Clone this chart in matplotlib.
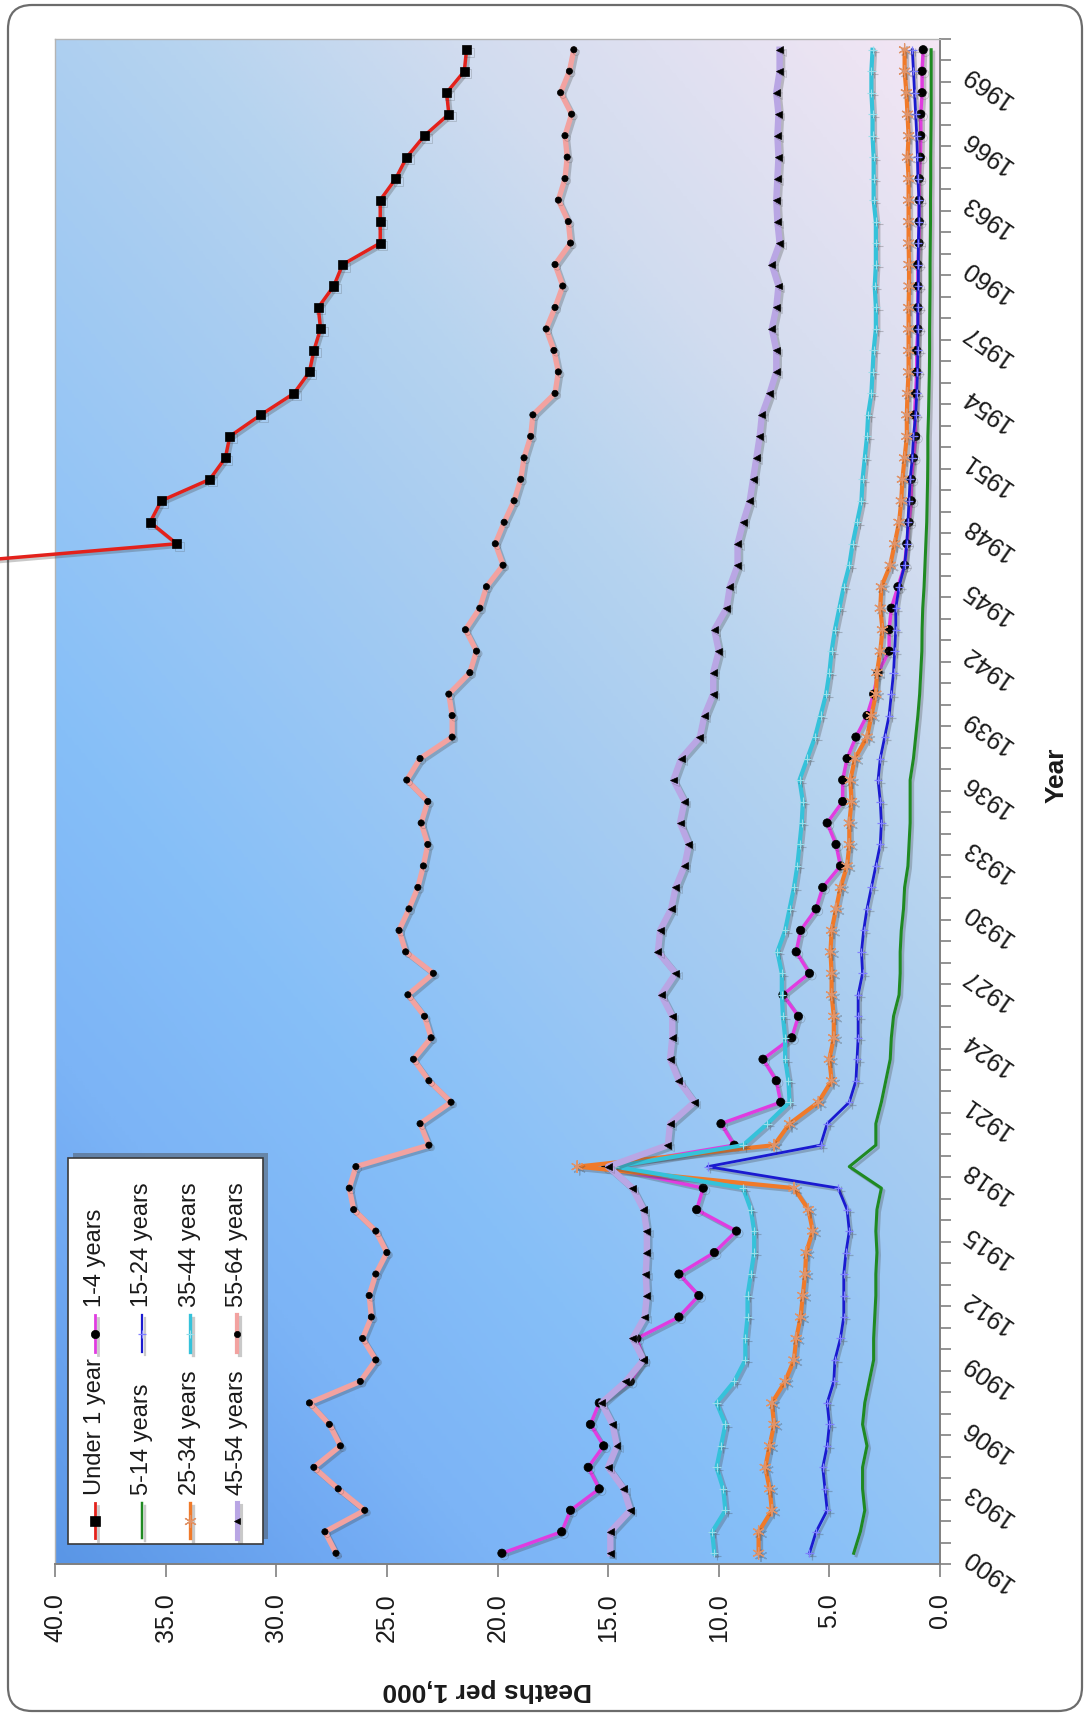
import numpy as np
import matplotlib
matplotlib.use("Agg")
import matplotlib.pyplot as plt
from matplotlib.patches import FancyBboxPatch, Rectangle
from matplotlib.lines import Line2D
from matplotlib.colors import LinearSegmentedColormap
import matplotlib.patheffects as pe

plt.rcParams['font.family'] = ['Liberation Sans', 'DejaVu Sans']

# ---------------- data (deaths per 1,000) ----------------
years = list(range(1900, 1971))
under1_years = list(range(1946, 1971))
under_1 = [45.9, 34.5, 35.7, 35.2, 33.0, 32.3, 32.1, 30.7, 29.2, 28.5,
           28.3, 28.0, 28.1, 27.4, 27.0, 25.3, 25.3, 25.3, 24.6, 24.1,
           23.3, 22.2, 22.3, 21.5, 21.4]
age_1_4 = [19.8, 17.1, 16.7, 15.4, 15.9, 15.2, 15.8, 15.4, 14.0, 13.4,
           13.7, 11.8, 10.9, 11.8, 10.2, 9.2, 11.0, 10.7, 15.1, 9.3,
           9.9, 7.2, 7.4, 8.0, 6.7, 6.4, 7.1, 5.9, 6.5, 6.3,
           5.6, 5.3, 4.5, 4.7, 5.1, 4.4, 4.4, 4.2, 3.8, 3.3,
           3.0, 2.8, 2.3, 2.3, 2.2, 1.9, 1.6, 1.5, 1.4, 1.3,
           1.3, 1.2, 1.1, 1.15, 1.1, 1.05, 1.05, 1.0, 1.0, 1.0,
           1.0, 0.95, 0.94, 0.94, 0.94, 0.89, 0.87, 0.87, 0.81, 0.81,
           0.76]
age_5_14 = [3.9, 3.6, 3.4, 3.5, 3.5, 3.3, 3.5, 3.4, 3.2, 3.0,
            3.0, 2.95, 2.9, 2.9, 2.85, 2.9, 2.85, 2.65, 4.1, 2.9,
            2.9, 2.65, 2.45, 2.25, 2.2, 2.1, 1.85, 1.8, 1.8, 1.75,
            1.65, 1.6, 1.45, 1.4, 1.35, 1.35, 1.35, 1.2, 1.1, 1.0,
            0.92, 0.87, 0.82, 0.81, 0.78, 0.72, 0.68, 0.64, 0.6, 0.58,
            0.56, 0.55, 0.55, 0.52, 0.5, 0.48, 0.47, 0.47, 0.46, 0.45,
            0.45, 0.44, 0.43, 0.43, 0.42, 0.42, 0.41, 0.4, 0.4, 0.4,
            0.4]
age_15_24 = [5.9, 5.6, 5.1, 5.2, 5.3, 5.1, 5.0, 5.1, 4.8, 4.75,
             4.5, 4.35, 4.35, 4.35, 4.25, 4.1, 4.2, 4.6, 10.5, 5.4,
             5.1, 4.1, 3.8, 3.75, 3.7, 3.7, 3.7, 3.5, 3.55, 3.45,
             3.3, 3.1, 2.9, 2.7, 2.65, 2.7, 2.8, 2.7, 2.5, 2.3,
             2.2, 2.1, 2.05, 2.0, 2.0, 1.85, 1.6, 1.5, 1.45, 1.4,
             1.35, 1.25, 1.2, 1.1, 1.05, 1.02, 1.0, 1.0, 1.0, 0.98,
             0.98, 0.98, 0.95, 0.95, 1.0, 1.02, 1.05, 1.1, 1.15, 1.2,
             1.25]
age_25_34 = [8.2, 8.2, 7.6, 7.7, 7.9, 7.7, 7.5, 7.6, 7.0, 6.6,
             6.5, 6.3, 6.2, 6.1, 6.05, 5.75, 5.95, 6.6, 16.4, 7.5,
             6.8, 5.5, 4.9, 5.0, 4.8, 4.8, 4.9, 4.9, 4.95, 4.9,
             4.7, 4.5, 4.2, 4.1, 4.1, 4.0, 4.05, 3.85, 3.3, 3.1,
             2.9, 2.85, 2.7, 2.6, 2.7, 2.65, 2.25, 2.05, 1.85, 1.75,
             1.7, 1.6, 1.5, 1.5, 1.47, 1.42, 1.42, 1.42, 1.42, 1.4,
             1.4, 1.42, 1.42, 1.42, 1.42, 1.47, 1.42, 1.47, 1.52, 1.6,
             1.6]
age_35_44 = [10.2, 10.3, 9.7, 9.8, 10.1, 9.9, 9.7, 10.1, 9.3, 8.8,
             8.8, 8.7, 8.7, 8.55, 8.4, 8.4, 8.55, 8.9, 14.7, 8.9,
             7.8, 6.8, 6.85, 7.0, 7.0, 7.1, 7.15, 7.15, 7.35, 7.0,
             6.8, 6.6, 6.45, 6.35, 6.25, 6.2, 6.35, 6.0, 5.65, 5.4,
             5.15, 5.0, 4.9, 4.75, 4.55, 4.35, 4.1, 3.95, 3.75, 3.55,
             3.5, 3.4, 3.3, 3.25, 3.1, 3.05, 3.0, 2.9, 2.9, 2.95,
             2.9, 2.9, 2.9, 3.0, 3.0, 3.0, 3.05, 3.05, 3.1, 3.1,
             3.05]
age_45_54 = [14.9, 14.9, 14.0, 14.3, 15.0, 14.6, 14.8, 15.3, 14.2, 13.4,
             13.9, 13.35, 13.25, 13.3, 13.25, 13.25, 13.4, 13.9, 15.0, 12.3,
             12.2, 11.1, 11.8, 12.2, 12.1, 12.1, 12.6, 11.95, 12.75, 12.65,
             12.15, 11.95, 11.55, 11.35, 11.75, 11.55, 12.05, 11.7, 10.85, 10.65,
             10.25, 10.25, 10.0, 10.2, 9.65, 9.5, 9.15, 9.15, 8.9, 8.6,
             8.45, 8.3, 8.15, 8.05, 7.7, 7.4, 7.4, 7.6, 7.4, 7.3,
             7.6, 7.25, 7.35, 7.4, 7.35, 7.3, 7.35, 7.3, 7.4, 7.25,
             7.25]
age_55_64 = [27.3, 27.8, 26.0, 27.2, 28.3, 27.1, 27.6, 28.5, 26.2, 25.5,
             26.1, 25.7, 25.8, 25.5, 25.0, 25.5, 26.5, 26.7, 26.4, 23.1,
             23.5, 22.1, 23.1, 23.8, 23.0, 23.3, 24.05, 22.9, 24.15, 24.45,
             24.0, 23.6, 23.35, 23.15, 23.45, 23.15, 24.1, 23.5, 22.05, 22.05,
             22.2, 21.25, 20.95, 21.45, 20.8, 20.5, 19.75, 20.1, 19.7, 19.25,
             18.95, 18.8, 18.5, 18.4, 17.4, 17.25, 17.45, 17.8, 17.4, 17.05,
             17.4, 16.7, 16.8, 17.25, 16.95, 16.85, 16.95, 16.65, 17.15, 16.75,
             16.55]

series_names = ["Under 1 year", "1-4 years", "5-14 years", "15-24 years",
                "25-34 years", "35-44 years", "45-54 years", "55-64 years"]
year_ticks = list(range(1900, 1970, 3))
death_ticks = [0, 5, 10, 15, 20, 25, 30, 35, 40]
x_label = "Deaths per 1,000"
y_label = "Year"

# ---------------- styles ----------------
styles = [
    dict(color='#e3211b', lw=2.5, marker='s', ms=6.5, mfc='black', mec='black', mew=0.5),
    dict(color='#e03ce0', lw=2.5, marker='o', ms=6, mfc='black', mec='black', mew=0.5),
    dict(color='#1f8a22', lw=2.2, marker='None'),
    dict(color='#1a1ad0', lw=2.0, marker='+', ms=6, mfc='#8080ff', mec='#8080ff', mew=0.9),
    dict(color='#f07a2a', lw=3.0, marker=(6, 2, 0), ms=9, mfc='#e0946a', mec='#e0946a', mew=0.9),
    dict(color='#35c2da', lw=3.0, marker='+', ms=6, mfc='#9adeea', mec='#9adeea', mew=0.8),
    dict(color='#b9a6e4', lw=4.6, marker='<', ms=5, mfc='black', mec='black', mew=0.5),
    dict(color='#f2a2a0', lw=3.8, marker='o', ms=4.5, mfc='black', mec='black', mew=0.5),
]
shadow = [pe.SimpleLineShadow(offset=(1.8, -1.8), shadow_color='#404040', alpha=0.28), pe.Normal()]

W, H = 1090, 1717
fig = plt.figure(figsize=(W / 100, H / 100), dpi=100)
fig.patch.set_facecolor('white')

# outer rounded frame
bg = fig.add_axes([0, 0, 1, 1], zorder=0)
bg.set_xlim(0, W); bg.set_ylim(H, 0); bg.axis('off')
bg.add_patch(FancyBboxPatch((8, 5), W - 16, H - 11,
                            boxstyle="round,pad=0,rounding_size=24",
                            fc='white', ec='#6c6c6c', lw=1.6))

# main axes: deaths horizontal (reversed), years vertical
ax = fig.add_axes([55 / W, 1 - 1564 / H, 885 / W, 1525 / H], zorder=1)

cmap = LinearSegmentedColormap.from_list('bg', [
    (0.0, '#5a96e6'), (0.12, '#6fa8f2'), (0.2, '#7cb4f6'), (0.33, '#86bff8'),
    (0.57, '#a9cdf1'), (0.66, '#b7d4ef'), (0.78, '#d1dcef'), (1.0, '#f4e6f4')])
U, V = np.meshgrid(np.linspace(0, 1, 400), np.linspace(0, 1, 400))
ax.imshow(0.4 * U + 0.6 * V, extent=(0, 1, 0, 1), transform=ax.transAxes,
          origin='lower', cmap=cmap, vmin=0, vmax=1, aspect='auto',
          zorder=0, interpolation='bilinear')

all_series = [age_1_4, age_5_14, age_15_24, age_25_34, age_35_44, age_45_54, age_55_64]
ax.plot(under_1, under1_years, zorder=3, clip_on=False, path_effects=shadow, **styles[0])
for vals, st in zip(all_series, styles[1:]):
    ax.plot(vals, years, zorder=3, path_effects=shadow, **st)

ax.set_xlim(40, 0)
ax.set_ylim(1899.5, 1970.5)

ax.set_xticks(death_ticks)
ax.set_xticklabels([f"{v:.1f}" for v in death_ticks])
ax.tick_params(axis='x', direction='out', length=9, width=1.2, color='#808080',
               pad=12, labelsize=18, labelrotation=90, labelcolor='#1a1a1a')

ax.yaxis.tick_right()
ax.set_yticks(year_ticks)
ax.set_yticklabels([str(y) for y in year_ticks])
ax.set_yticks(np.arange(1899.5, 1971, 1.0), minor=True)
ax.tick_params(axis='y', which='major', length=0, pad=18, labelsize=18, labelcolor='#1a1a1a')
ax.tick_params(axis='y', which='minor', direction='out', length=8, width=1.2, color='#808080')
for lbl in ax.get_yticklabels():
    lbl.set_rotation(145)
    lbl.set_rotation_mode('anchor')
    lbl.set_ha('right')
    lbl.set_va('center')

for side in ['top', 'left']:
    ax.spines[side].set_color('#b4b4b4'); ax.spines[side].set_linewidth(1.0)
for side in ['right', 'bottom']:
    ax.spines[side].set_color('#808080'); ax.spines[side].set_linewidth(1.4)

# overlay for legend and axis titles
lg = fig.add_axes([0, 0, 1, 1], zorder=4)
lg.set_xlim(0, W); lg.set_ylim(H, 0); lg.axis('off')
lg.patch.set_alpha(0)

lg.text(487, 1690, x_label, rotation=180, ha='center', va='center',
        fontweight='bold', fontsize=19, color='#1a1a1a')
lg.text(1057, 775, y_label, rotation=90, ha='center', va='center',
        fontweight='bold', fontsize=19, color='#1a1a1a')

# legend box (rotated layout)
lg.add_patch(Rectangle((73, 1153), 195, 386, fc='#4a4a4a', alpha=0.45, ec='none'))
lg.add_patch(Rectangle((68, 1158), 195, 386, fc='white', ec='#3a3a3a', lw=1.2))
cols = [95, 142, 190, 237]
for i, cx in enumerate(cols):
    for j, (y1, y2, ty) in enumerate([(1538, 1503, 1495), (1352, 1315, 1307)]):
        k = 2 * i + j
        st = styles[k]
        lg.add_line(Line2D([cx, cx], [y1, y2], color=st['color'], lw=st['lw'] * 0.8,
                           path_effects=shadow))
        if st.get('marker', 'None') != 'None':
            lg.add_line(Line2D([cx], [(y1 + y2) / 2], linestyle='None', marker=st['marker'],
                               ms=st['ms'], mfc=st['mfc'], mec=st['mec'], mew=st['mew']))
        lg.text(cx, ty, series_names[k], rotation=90, rotation_mode='anchor',
                ha='left', va='center', fontsize=17, color='#1a1a1a')

fig.savefig('out.png', dpi=100, facecolor='white')
